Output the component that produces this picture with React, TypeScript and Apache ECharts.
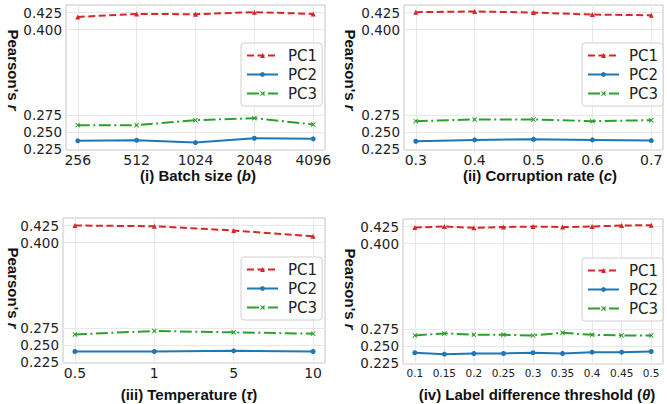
import React, { useEffect, useRef } from "react";
import * as echarts from "echarts";

const yTicks = [0.225, 0.25, 0.275, 0.4, 0.425];

const batchLabels = ["256", "512", "1024", "2048", "4096"];
const batchPC1 = [0.4185, 0.423, 0.4225, 0.4255, 0.423];
const batchPC2 = [0.2374, 0.2382, 0.2349, 0.2412, 0.2403];
const batchPC3 = [0.2603, 0.2603, 0.2676, 0.2706, 0.2613];

const corrLabels = ["0.3", "0.4", "0.5", "0.6", "0.7"];
const corrPC1 = [0.4255, 0.4265, 0.425, 0.422, 0.421];
const corrPC2 = [0.2368, 0.2388, 0.2397, 0.2388, 0.2378];
const corrPC3 = [0.2662, 0.2687, 0.2687, 0.2662, 0.2676];

const tempLabels = ["0.5", "1", "5", "10"];
const tempPC1 = [0.425, 0.424, 0.4177, 0.4094];
const tempPC2 = [0.2408, 0.2408, 0.2418, 0.2408];
const tempPC3 = [0.2658, 0.2708, 0.2688, 0.2669];

const thrLabels = ["0.1", "0.15", "0.2", "0.25", "0.3", "0.35", "0.4", "0.45", "0.5"];
const thrPC1 = [0.4236, 0.425, 0.4231, 0.4242, 0.425, 0.4242, 0.425, 0.4265, 0.427];
const thrPC2 = [0.2404, 0.2384, 0.2394, 0.2394, 0.2404, 0.2394, 0.2413, 0.2413, 0.2423];
const thrPC3 = [0.2658, 0.2687, 0.2667, 0.2667, 0.2658, 0.2697, 0.2667, 0.2658, 0.2658];

const seriesNames = ["PC1", "PC2", "PC3"];
const colors = ["#d62728", "#1f77b4", "#2ca02c"];

const xSymbol =
  "path://M0,1.4L1.4,0L5,3.6L8.6,0L10,1.4L6.4,5L10,8.6L8.6,10L5,6.4L1.4,10L0,8.6L3.6,5Z";

const panels = [
  {
    labels: batchLabels, pc1: batchPC1, pc2: batchPC2, pc3: batchPC3,
    grid: { left: 66, top: 5, width: 259, height: 145 },
    legend: { left: 241, top: 43 },
    ylab: { x: 13, y: 70 },
    title: { x: 198, y: 175, pre: "(i) Batch size (", it: "b", post: ")" },
    tickFont: 14,
  },
  {
    labels: corrLabels, pc1: corrPC1, pc2: corrPC2, pc3: corrPC3,
    grid: { left: 404, top: 5, width: 259, height: 145 },
    legend: { left: 582, top: 43 },
    ylab: { x: 350, y: 70 },
    title: { x: 540, y: 175, pre: "(ii) Corruption rate (", it: "c", post: ")" },
    tickFont: 14,
  },
  {
    labels: tempLabels, pc1: tempPC1, pc2: tempPC2, pc3: tempPC3,
    grid: { left: 63, top: 218, width: 262, height: 145 },
    legend: { left: 241, top: 257 },
    ylab: { x: 13, y: 288 },
    title: { x: 189, y: 394, pre: "(iii) Temperature (", it: "τ", post: ")" },
    tickFont: 14,
  },
  {
    labels: thrLabels, pc1: thrPC1, pc2: thrPC2, pc3: thrPC3,
    grid: { left: 403, top: 219, width: 260, height: 145 },
    legend: { left: 582, top: 258 },
    ylab: { x: 350, y: 289 },
    title: { x: 537, y: 394, pre: "(iv) Label difference threshold (", it: "θ", post: ")" },
    tickFont: 10.5,
  },
];

function buildOption() {
  const grid: any[] = [];
  const xAxis: any[] = [];
  const yAxis: any[] = [];
  const series: any[] = [];
  const legend: any[] = [];
  const graphic: any[] = [];

  panels.forEach((p, pi) => {
    const n = p.labels.length;
    const idx = p.labels.map((_, i) => i);
    grid.push({
      ...p.grid,
      show: true,
      borderColor: "#c4c4c4",
      borderWidth: 1,
      backgroundColor: "transparent",
      containLabel: false,
    });
    xAxis.push({
      type: "value",
      gridIndex: pi,
      min: -0.05 * (n - 1),
      max: 1.05 * (n - 1),
      axisLine: { show: false },
      axisTick: { show: false, customValues: idx },
      axisLabel: {
        customValues: idx,
        formatter: (v: number) => p.labels[Math.round(v)],
        fontFamily: "DejaVu Sans",
        fontSize: p.tickFont,
        color: "#222",
        margin: 3,
      },
      splitLine: { show: true, lineStyle: { color: "#e8e8e8", width: 1 } },
    });
    yAxis.push({
      type: "value",
      gridIndex: pi,
      min: 0.224,
      max: 0.436,
      axisLine: { show: false },
      axisTick: { show: false, customValues: yTicks },
      axisLabel: {
        customValues: yTicks,
        formatter: (v: number) => v.toFixed(3),
        fontFamily: "DejaVu Sans",
        fontSize: 13.5,
        color: "#222",
        margin: 4,
      },
      splitLine: { show: true, lineStyle: { color: "#e8e8e8", width: 1 } },
    });
    const vals = [p.pc1, p.pc2, p.pc3];
    const symbols = ["triangle", "circle", xSymbol];
    const dashes: any[] = [[7, 3.5], "solid", [12, 3.5, 2, 3.5]];
    vals.forEach((arr, si) => {
      series.push({
        type: "line",
        name: seriesNames[si],
        xAxisIndex: pi,
        yAxisIndex: pi,
        data: arr.map((v, i) => [i, v]),
        symbol: symbols[si],
        symbolSize: 5,
        showSymbol: true,
        itemStyle: { color: colors[si] },
        lineStyle: { color: colors[si], width: 2, type: dashes[si] },
        emphasis: { disabled: true },
        z: 3,
      });
    });
    legend.push({
      orient: "vertical",
      left: p.legend.left,
      top: p.legend.top,
      itemWidth: 31,
      itemHeight: 6,
      itemGap: 4,
      padding: [5, 5, 5, 5],
      borderColor: "#d0d0d0",
      borderWidth: 1,
      borderRadius: 3,
      backgroundColor: "rgba(255,255,255,0.85)",
      data: seriesNames.map((nm) => ({ name: nm })),
      textStyle: {
        fontFamily: "DejaVu Sans",
        fontSize: 15,
        color: "#222",
        padding: [0, 0, 0, 5],
      },
      selectedMode: false,
    });
    graphic.push({
      type: "text",
      x: p.ylab.x,
      y: p.ylab.y,
      rotation: -Math.PI / 2,
      style: {
        text: "{a|Pearson's }{b|r}",
        align: "center",
        verticalAlign: "middle",
        fill: "#111",
        rich: {
          a: { fontFamily: "Liberation Sans", fontWeight: "bold", fontSize: 15, fill: "#111" },
          b: { fontFamily: "Liberation Sans", fontWeight: "bold", fontStyle: "italic", fontSize: 15, fill: "#111" },
        },
      },
    });
    graphic.push({
      type: "text",
      x: p.title.x,
      y: p.title.y,
      style: {
        text: `{a|${p.title.pre}}{b|${p.title.it}}{a|${p.title.post}}`,
        align: "center",
        verticalAlign: "middle",
        fill: "#111",
        rich: {
          a: { fontFamily: "Liberation Sans", fontWeight: "bold", fontSize: 15, fill: "#111" },
          b: { fontFamily: "Liberation Sans", fontWeight: "bold", fontStyle: "italic", fontSize: 15, fill: "#111" },
        },
      },
    });
  });

  return {
    animation: false,
    backgroundColor: "#ffffff",
    grid,
    xAxis,
    yAxis,
    series,
    legend,
    graphic,
  };
}

export default function App() {
  const ref = useRef<HTMLDivElement>(null);
  useEffect(() => {
    document.body.style.margin = "0";
    if (!ref.current) return;
    const chart = echarts.init(ref.current, undefined, { renderer: "svg", width: 667, height: 404 });
    chart.setOption(buildOption() as any);
    return () => chart.dispose();
  }, []);
  return (
    <div
      ref={ref}
      style={{ position: "absolute", left: 0, top: 0, width: 667, height: 404, background: "#fff" }}
    />
  );
}
